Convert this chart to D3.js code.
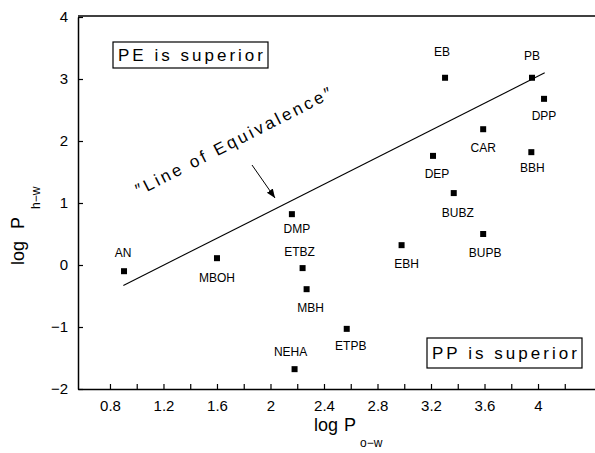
<!DOCTYPE html>
<html>
<head>
<meta charset="utf-8">
<script src="https://cdn.jsdelivr.net/npm/d3@7"></script>
<style>
  body { margin: 0; background: #fff; }
  text { font-family: "Liberation Sans", "DejaVu Sans", sans-serif; fill: #000; }
</style>
</head>
<body>
<div class="canvas"></div>
<script>
// dimensions
const w = 595;
const h = 453;

// data
const names = ["AN", "MBOH", "DMP", "ETBZ", "MBH", "NEHA", "ETPB", "EBH", "DEP", "BUBZ", "BUPB", "EB", "CAR", "PB", "BBH", "DPP"];
const logPow = [0.905, 1.6, 2.16, 2.24, 2.27, 2.18, 2.57, 2.98, 3.215, 3.37, 3.59, 3.305, 3.59, 3.955, 3.95, 4.045];
const logPhw = [-0.1, 0.11, 0.82, -0.05, -0.39, -1.68, -1.03, 0.32, 1.76, 1.16, 0.5, 3.02, 2.19, 3.02, 1.82, 2.68];
const xTicks = [0.6, 0.8, 1.0, 1.2, 1.4, 1.6, 1.8, 2.0, 2.2, 2.4, 2.6, 2.8, 3.0, 3.2, 3.4, 3.6, 3.8, 4.0, 4.2];
const xLabels = [0.8, 1.2, 1.6, 2, 2.4, 2.8, 3.2, 3.6, 4];
const yTicks = [-2, -1, 0, 1, 2, 3, 4];
// line of equivalence end points
const eqX = [0.9, 4.05];
const eqY = [-0.33, 3.1];

// label placement (offset of label from marker: dx, baseline dy)
const labelOffset = {
  AN: [-1, -14], MBOH: [0, 24], DMP: [5, 19], ETBZ: [-3, -12], MBH: [4, 23],
  NEHA: [-4, -13], ETPB: [4, 21], EBH: [5, 23], DEP: [4, 22], BUBZ: [4, 24],
  BUPB: [2, 23], EB: [-3, -22], CAR: [0, 23], PB: [0, -18], BBH: [1, 20], DPP: [0, 21]
};

const svg = d3.select(".canvas").append("svg").attr("width", w).attr("height", h);

// scales
const x = d3.scaleLinear().domain([0.561, 4.426]).range([78, 595]);
const y = d3.scaleLinear().domain([-2, 4]).range([389, 17]);

// x axis, ticks pointing up
const xAxis = svg.append("g")
  .attr("transform", `translate(0, ${y(-2)})`)
  .call(d3.axisBottom(x).tickValues(xTicks).tickSizeInner(-5).tickSizeOuter(0).tickPadding(11)
    .tickFormat((d) => (xLabels.some((v) => Math.abs(v - d) < 1e-6) ? d3.format("~g")(d) : "")));
xAxis.select(".domain").attr("stroke-width", 1.5);
xAxis.selectAll(".tick line").attr("stroke-width", 1.2);
xAxis.selectAll(".tick").filter((d) => d < 0.7).remove();
xAxis.selectAll("text").attr("font-size", 15).attr("font-family", null);

// y axis, ticks pointing right
const yAxis = svg.append("g")
  .attr("transform", `translate(${x.range()[0]}, 0)`)
  .call(d3.axisLeft(y).tickValues(yTicks).tickSizeInner(-5).tickSizeOuter(0).tickPadding(10)
    .tickFormat((d) => (d < 0 ? "\u2212" + Math.abs(d) : d)));
yAxis.select(".domain").attr("stroke-width", 1.5);
yAxis.selectAll(".tick line").attr("stroke-width", 1.2);
yAxis.selectAll("text").attr("font-size", 15).attr("font-family", null);

// top frame line
svg.append("line")
  .attr("x1", x.range()[0]).attr("x2", w)
  .attr("y1", y(4) - 1).attr("y2", y(4) - 1)
  .attr("stroke", "#000").attr("stroke-width", 1.5);

// line of equivalence
svg.append("line")
  .attr("x1", x(eqX[0])).attr("y1", y(eqY[0]))
  .attr("x2", x(eqX[1])).attr("y2", y(eqY[1]))
  .attr("stroke", "#000").attr("stroke-width", 1.1);

// markers
const pts = names.map((n, i) => ({ name: n, x: logPow[i], y: logPhw[i] }));
svg.selectAll("rect.pt")
  .data(pts)
  .enter()
  .append("rect")
  .attr("class", "pt")
  .attr("x", (d) => x(d.x) - 3)
  .attr("y", (d) => y(d.y) - 3)
  .attr("width", 6)
  .attr("height", 6)
  .attr("fill", "#000");

// point labels
svg.selectAll("text.lbl")
  .data(pts)
  .enter()
  .append("text")
  .attr("class", "lbl")
  .attr("x", (d) => x(d.x) + labelOffset[d.name][0])
  .attr("y", (d) => y(d.y) + labelOffset[d.name][1])
  .attr("text-anchor", "middle")
  .attr("font-size", 12)
  .text((d) => d.name);

// boxed notes
function note(txt, x0, y0, x1, y1) {
  svg.append("rect")
    .attr("x", x0).attr("y", y0).attr("width", x1 - x0).attr("height", y1 - y0)
    .attr("fill", "none").attr("stroke", "#000").attr("stroke-width", 1.2);
  svg.append("text")
    .attr("x", x0 + 5).attr("y", (y0 + y1) / 2 + 6)
    .attr("font-size", 17)
    .attr("textLength", x1 - x0 - 10)
    .attr("lengthAdjust", "spacing")
    .text(txt);
}
note("PE is superior", 113, 42, 268, 68);
note("PP is superior", 427, 338, 582, 368);

// "Line of Equivalence" annotation
svg.append("text")
  .attr("transform", "translate(139, 196) rotate(-27)")
  .attr("font-size", 17)
  .attr("textLength", 218)
  .attr("lengthAdjust", "spacing")
  .text("\u2033Line of Equivalence\u2033");

// arrow
svg.append("defs").append("marker")
  .attr("id", "arrow")
  .attr("viewBox", "0 0 10 10")
  .attr("refX", 10).attr("refY", 5)
  .attr("markerWidth", 9).attr("markerHeight", 9)
  .attr("markerUnits", "userSpaceOnUse")
  .attr("orient", "auto")
  .append("path").attr("d", "M0,1 L10,5 L0,9 Z").attr("fill", "#000");
svg.append("line")
  .attr("x1", 252).attr("y1", 165).attr("x2", 275).attr("y2", 198)
  .attr("stroke", "#000").attr("stroke-width", 1)
  .attr("marker-end", "url(#arrow)");

// axis titles
const xt = svg.append("text").attr("x", 314).attr("y", 431).attr("font-size", 18);
xt.append("tspan").text("log");
xt.append("tspan").attr("dx", 6).text("P");
xt.append("tspan").attr("dx", 4).attr("dy", 16).attr("font-size", 12).text("o\u2212w");

const yt = svg.append("text").attr("transform", "translate(24, 265) rotate(-90)").attr("font-size", 18);
yt.append("tspan").text("log");
yt.append("tspan").attr("dx", 12).text("P");
yt.append("tspan").attr("dx", 8).attr("dy", 16).attr("font-size", 12).text("h\u2212w");
</script>
</body>
</html>
